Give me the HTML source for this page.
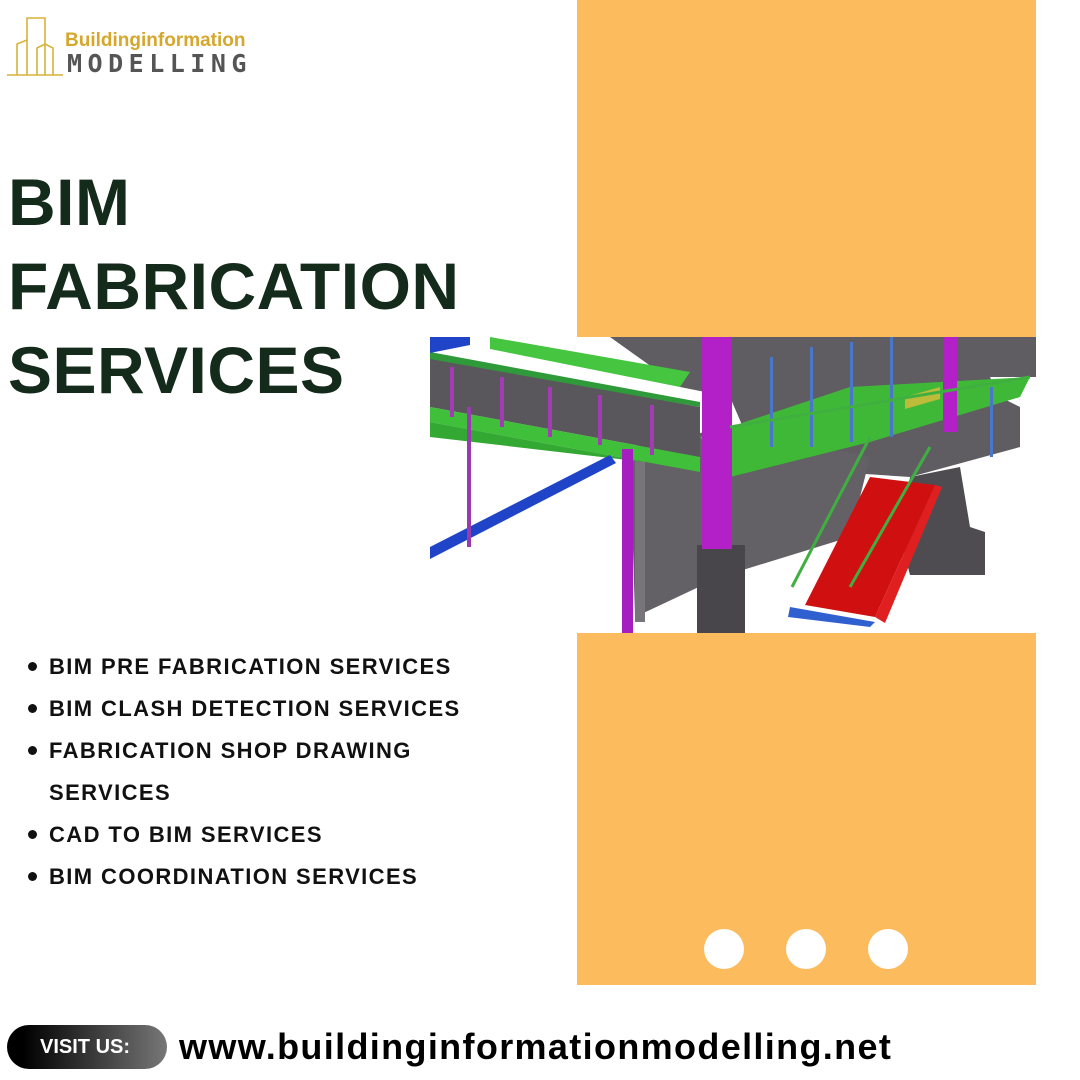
<!DOCTYPE html>
<html><head><meta charset="utf-8"><style>
*{margin:0;padding:0;box-sizing:border-box}
body{width:1080px;height:1080px;background:#fff;position:relative;overflow:hidden;font-family:"Liberation Sans",sans-serif}
.abs{position:absolute}
.title{left:8px;top:160px;font-size:66px;font-weight:bold;color:#142a1a;line-height:84px;letter-spacing:0.5px}
ul{position:absolute;left:28px;top:646px;list-style:none;font-size:22px;font-weight:bold;color:#111;line-height:42px;letter-spacing:1.4px}
li{position:relative;padding-left:21px}
li:before{content:"";position:absolute;left:0;top:16px;width:9px;height:9px;border-radius:50%;background:#111}
.dot{position:absolute;width:40px;height:40px;border-radius:50%;background:#fff;top:929px}
</style></head><body>
<div class="abs" style="left:577px;top:0;width:459px;height:337px;background:#fcbb5c"></div>
<div class="abs" style="left:577px;top:633px;width:459px;height:352px;background:#fcbb5c"></div>
<div class="dot" style="left:704px"></div><div class="dot" style="left:786px"></div><div class="dot" style="left:868px"></div>

<svg class="abs" style="left:5px;top:14px" width="60" height="64">
<g fill="none" stroke="#d8b23a" stroke-width="1.6">
<path d="M2 61H58"/><path d="M22 61V4H40V61"/><path d="M12 61V30L22 26"/><path d="M32 61V34L40 30L48 34V61"/>
</g></svg>
<div class="abs" style="left:65px;top:30px;font-size:19px;font-weight:bold;color:#d5a72c;letter-spacing:0px">Buildinginformation</div>
<div class="abs" style="left:67px;top:49px;font-size:25px;font-weight:bold;color:#555;letter-spacing:5.5px;font-family:'DejaVu Sans Mono',monospace">MODELLING</div>

<div class="abs title">BIM<br>FABRICATION<br>SERVICES</div>

<svg class="abs" style="left:430px;top:337px" width="606" height="296" viewBox="0 0 606 296">
<rect width="606" height="296" fill="#fff"/>
<polygon points="180,0 606,0 606,40 560,40 570,60 590,70 590,110 480,140 330,130 300,60 250,50" fill="#5f5d62"/>
<polygon points="200,110 300,90 440,120 420,200 290,240 205,280" fill="#636166"/>
<polygon points="205,110 215,110 215,285 205,285" fill="#77757a"/>
<polygon points="0,20 270,70 270,120 0,70" fill="#59575c"/>
<polygon points="0,70 270,120 270,135 0,85" fill="#3fbf3a"/>
<polygon points="0,85 270,135 215,125 0,100" fill="#33a833"/>
<polygon points="60,0 260,35 250,50 60,12" fill="#45c540"/>
<polygon points="270,100 420,50 600,40 590,60 440,105 300,140" fill="#3fb838"/>
<polygon points="0,15 270,65 270,70 0,22" fill="#2f9a3a"/>
<polygon points="0,210 180,118 186,126 0,222" fill="#1f44c8"/>
<polygon points="0,0 40,0 40,8 0,16" fill="#1f44c8"/>
<polygon points="480,140 530,130 540,190 555,195 555,238 480,238 470,200" fill="#4e4c51"/>
<rect x="267" y="208" width="48" height="88" fill="#48464b"/>
<rect x="272" y="0" width="30" height="212" fill="#b320c8"/>
<rect x="192" y="112" width="11" height="184" fill="#a51ec0"/>
<rect x="37" y="70" width="4" height="140" fill="#9a3ab0"/>
<rect x="513" y="0" width="14" height="95" fill="#b320c8"/>
<g fill="#a33bb5"><rect x="20" y="30" width="4" height="50"/><rect x="70" y="40" width="4" height="50"/><rect x="118" y="50" width="4" height="50"/><rect x="168" y="58" width="4" height="50"/><rect x="220" y="68" width="4" height="50"/></g>
<g fill="#4a78c8"><rect x="340" y="20" width="3" height="90"/><rect x="380" y="10" width="3" height="100"/><rect x="420" y="5" width="3" height="100"/><rect x="460" y="0" width="3" height="100"/><rect x="560" y="50" width="3" height="70"/></g>
<polygon points="475,60 510,50 510,62 475,72" fill="#bcbc3a"/>
<polygon points="440,140 505,148 445,280 375,268" fill="#d01010"/>
<polygon points="505,148 512,150 455,286 445,280" fill="#e02020"/>
<polygon points="360,270 445,285 440,290 358,280" fill="#3060d0"/>
<g stroke="#3fb040" stroke-width="3" fill="none"><path d="M362 250L440 100"/><path d="M420 250L500 110"/><path d="M300 90L600 40"/></g>
</svg>

<ul>
<li>BIM PRE FABRICATION SERVICES</li>
<li>BIM CLASH DETECTION SERVICES</li>
<li>FABRICATION SHOP DRAWING<br>SERVICES</li>
<li>CAD TO BIM SERVICES</li>
<li>BIM COORDINATION SERVICES</li>
</ul>

<div class="abs" style="left:7px;top:1025px;width:160px;height:44px;border-radius:22px;background:linear-gradient(90deg,#000 10%,#777);color:#fff;font-weight:bold;font-size:20px;line-height:44px;padding-left:33px">VISIT US:</div>
<div class="abs" style="left:179px;top:1025px;font-size:36px;font-weight:bold;color:#000;line-height:44px;letter-spacing:1.35px">www.buildinginformationmodelling.net</div>
</body></html>
